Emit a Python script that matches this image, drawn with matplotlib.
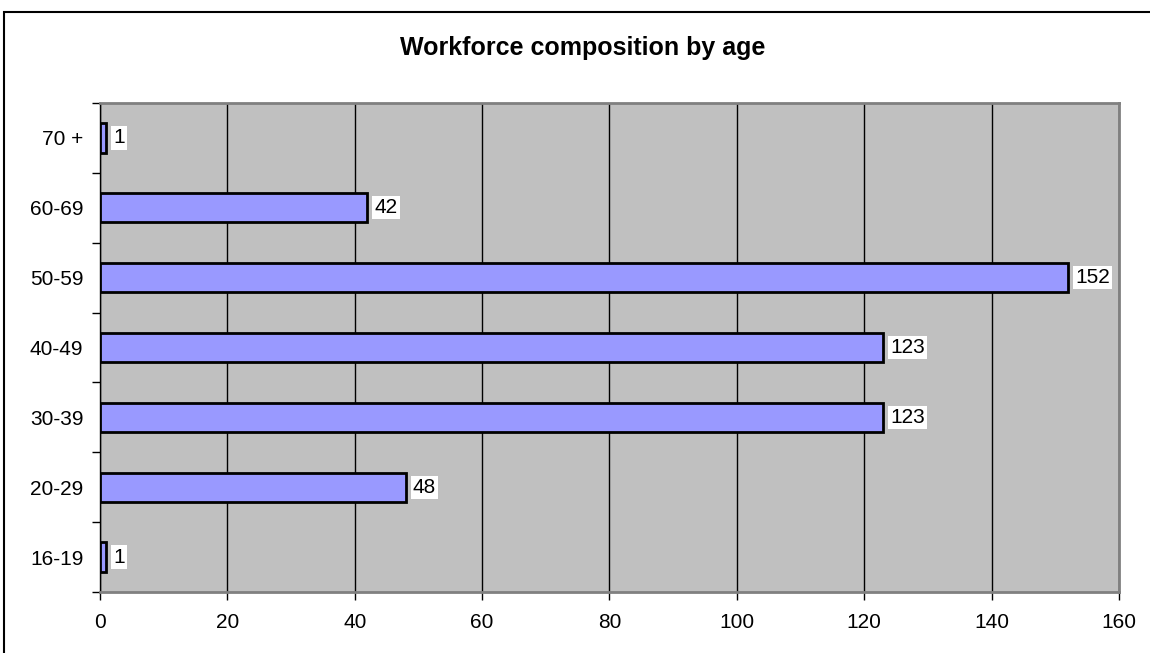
import matplotlib.pyplot as plt
from matplotlib.patches import Rectangle

plt.rcParams['font.family'] = ['Liberation Sans', 'DejaVu Sans']

age_groups = ["16-19", "20-29", "30-39", "40-49", "50-59", "60-69", "70 +"]
headcount = [1, 48, 123, 123, 152, 42, 1]
x_ticks = [0, 20, 40, 60, 80, 100, 120, 140, 160]

fig = plt.figure(figsize=(11.5, 6.53), dpi=100)
# chart frame (runs off the right and bottom edges)
fig.patches.append(Rectangle((4 / 1150, -0.2), 1.2, 0.2 + (653 - 12) / 653, transform=fig.transFigure,
                             fill=False, edgecolor="black", linewidth=1.5, zorder=0))

ax = fig.add_axes([100 / 1150, 1 - 592 / 653, 1019 / 1150, 489 / 653])
ax.set_facecolor("#C0C0C0")

pos = range(len(age_groups))
ax.barh(pos, headcount, height=0.42, color="#9999FF", edgecolor="black", linewidth=2, zorder=3)

for y, v in zip(pos, headcount):
    ax.text(v + 1.1, y, str(v), va="center", ha="left", fontsize=15,
            bbox=dict(facecolor="white", edgecolor="none", pad=1.5), zorder=4)

ax.set_xlim(0, 160)
ax.set_ylim(-0.5, len(age_groups) - 0.5)
ax.set_xticks(x_ticks)
ax.set_xticklabels([str(t) for t in x_ticks], fontsize=15)
ax.xaxis.grid(True, color="black", linewidth=1.0, zorder=1)
ax.set_axisbelow(True)

ax.set_yticks(list(pos))
ax.set_yticklabels(age_groups, fontsize=15)
ax.tick_params(axis="y", which="major", length=0, pad=12)
ax.set_yticks([i - 0.5 for i in range(len(age_groups) + 1)], minor=True)
ax.tick_params(axis="y", which="minor", length=6, width=1, color="black")
ax.tick_params(axis="x", length=6, width=1, color="black", pad=9)

for side in ["top", "right", "bottom"]:
    ax.spines[side].set_color("#808080")
    ax.spines[side].set_linewidth(2)
ax.spines["left"].set_color("black")
ax.spines["left"].set_linewidth(1)

fig.text(583 / 1150, 1 - 48 / 653, "Workforce composition by age", ha="center", va="center",
         fontsize=18, fontweight="bold")

fig.savefig("out.png", dpi=100)
